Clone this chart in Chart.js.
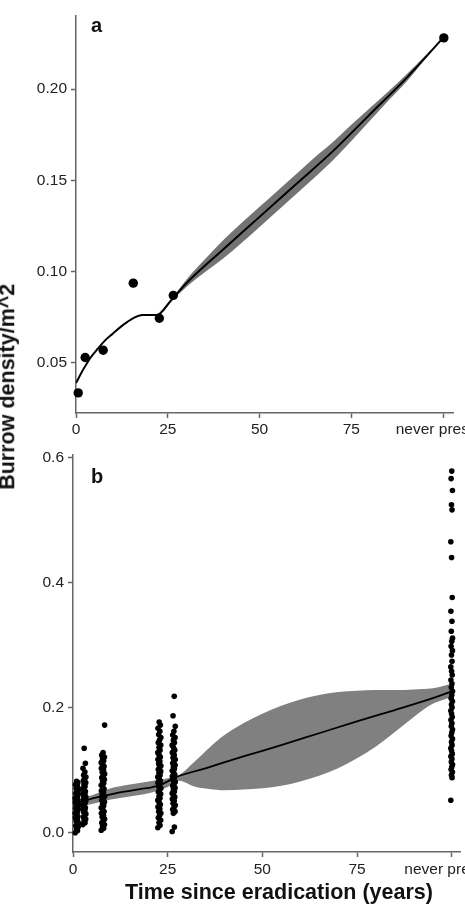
<!DOCTYPE html>
<html>
<head>
<meta charset="utf-8">
<script src="https://cdn.jsdelivr.net/npm/chart.js@4.4.1/dist/chart.umd.min.js"></script>
<style>
  html, body { margin: 0; padding: 0; background: #fff; width: 465px; height: 915px; overflow: hidden; }
  #wrap { position: relative; width: 465px; height: 915px; overflow: hidden; font-family: "Liberation Sans", Arial, sans-serif; }
  canvas { position: absolute; left: 0; }
  #chartA { top: 0; }
  #chartB { top: 440px; }
  .lbl { position: absolute; font-weight: bold; color: #111; white-space: nowrap; font-size: 20px; line-height: 20px; }
  .title { font-size: 21.5px; line-height: 21.5px; }
  #ytitle { width: 260px; left: -122.5px; top: 376px; text-align: center; transform: rotate(-90deg); }
  #xtitle { width: 400px; left: 79px; top: 882px; text-align: center; }
</style>
</head>
<body>
<div id="wrap">
  <canvas id="chartA" width="520" height="440" style="width:520px;height:440px"></canvas>
  <canvas id="chartB" width="520" height="475" style="width:520px;height:475px"></canvas>
  <div class="lbl" style="left:91px; top:15px;">a</div>
  <div class="lbl" style="left:91px; top:466px;">b</div>
  <div class="lbl title" id="ytitle">Burrow density/m^2</div>
  <div class="lbl title" id="xtitle">Time since eradication (years)</div>
</div>
<script>
// x ticks shared by both panels (100 = never present)
const xTicks = [0, 25, 50, 75, 100];
const neverLabel = 'never present';

// ---- panel a: site means + fitted curve ----
const yTicksA = [0.05, 0.10, 0.15, 0.20];
const meanX = [0.6, 2.5, 7.4, 15.6, 22.7, 26.5, 100.2];
const meanY = [0.0336, 0.053, 0.057, 0.0937, 0.0745, 0.087, 0.228];

const fitAX = [0, 2, 4, 6, 8, 10, 12, 14, 16, 18, 20, 22, 26, 30, 40, 50, 60, 70, 80, 90, 100];
const fitAY = [0.039, 0.0465, 0.053, 0.058, 0.0625, 0.066, 0.0695, 0.0725, 0.075, 0.0762, 0.0763, 0.0763,
               0.0845, 0.0935, 0.112, 0.130, 0.148, 0.166, 0.186, 0.206, 0.228];

const bandAX = [22, 26, 30, 35, 40, 45, 50, 55, 60, 65, 70, 75, 80, 85, 90, 95, 100];
const bandAHi = [0.0763, 0.085, 0.0955, 0.1065, 0.117, 0.1265, 0.1355, 0.1445, 0.1535, 0.1625, 0.171, 0.1805, 0.1895, 0.1985, 0.208, 0.218, 0.228];
const bandALo = [0.0763, 0.084, 0.0915, 0.0995, 0.107, 0.1155, 0.1245, 0.1335, 0.1425, 0.1515, 0.161, 0.1715, 0.1825, 0.1935, 0.204, 0.216, 0.228];

// ---- panel b: individual plots + fitted curve ----
const yTicksB = [0.0, 0.2, 0.4, 0.6];
const siteCenters = [1.0, 3.0, 7.9, 22.8, 26.6, 100.0];
const siteSpread = [0.45, 0.45, 0.5, 0.45, 0.45, 0.25];
const jitter = [-0.9, 0.4, -0.2, 0.8, -0.6, 0.1, 0.9, -0.4, 0.3, -0.8, 0.6, -0.1];

const site1Y = [0.000, 0.003, 0.006, 0.009, 0.011, 0.014, 0.016, 0.019, 0.021, 0.024, 0.026, 0.028, 0.031, 0.033,
                0.035, 0.037, 0.039, 0.041, 0.043, 0.045, 0.047, 0.049, 0.051, 0.053, 0.055, 0.057, 0.059, 0.061,
                0.063, 0.066, 0.068, 0.071, 0.074, 0.077, 0.080, 0.082];
const site2Y = [0.013, 0.016, 0.019, 0.022, 0.025, 0.028, 0.030, 0.033, 0.035, 0.038, 0.040, 0.042, 0.045, 0.047,
                0.049, 0.051, 0.053, 0.055, 0.057, 0.059, 0.061, 0.063, 0.066, 0.068, 0.071, 0.074, 0.077, 0.080,
                0.083, 0.086, 0.089, 0.092, 0.097, 0.103, 0.111, 0.135];
const site3Y = [0.004, 0.007, 0.010, 0.013, 0.016, 0.019, 0.022, 0.025, 0.028, 0.031, 0.034, 0.037, 0.040, 0.043,
                0.046, 0.049, 0.052, 0.055, 0.058, 0.061, 0.064, 0.067, 0.070, 0.073, 0.076, 0.079, 0.082, 0.085,
                0.088, 0.091, 0.094, 0.097, 0.100, 0.103, 0.106, 0.109, 0.112, 0.115, 0.118, 0.121, 0.124, 0.128, 0.172];
const site4Y = [0.008, 0.012, 0.016, 0.020, 0.024, 0.027, 0.031, 0.034, 0.038, 0.041, 0.045, 0.048, 0.052, 0.055,
                0.058, 0.062, 0.065, 0.068, 0.071, 0.074, 0.077, 0.080, 0.083, 0.086, 0.089, 0.092, 0.095, 0.098,
                0.101, 0.104, 0.107, 0.110, 0.114, 0.117, 0.121, 0.124, 0.128, 0.132, 0.136, 0.140, 0.144, 0.148,
                0.152, 0.157, 0.162, 0.167, 0.172, 0.177];
const site5Y = [0.002, 0.009, 0.031, 0.034, 0.037, 0.040, 0.044, 0.047, 0.051, 0.054, 0.057, 0.060, 0.063, 0.066,
                0.069, 0.072, 0.075, 0.078, 0.081, 0.084, 0.087, 0.090, 0.093, 0.096, 0.099, 0.102, 0.105, 0.108,
                0.111, 0.114, 0.117, 0.120, 0.124, 0.128, 0.132, 0.136, 0.140, 0.144, 0.148, 0.152, 0.156, 0.162,
                0.170, 0.187, 0.218];
const site6Y = [0.052, 0.088, 0.092, 0.097, 0.101, 0.105, 0.109, 0.113, 0.118, 0.122, 0.126, 0.131, 0.135, 0.140,
                0.145, 0.150, 0.155, 0.160, 0.165, 0.170, 0.175, 0.180, 0.185, 0.190, 0.195, 0.200, 0.205, 0.210,
                0.215, 0.220, 0.226, 0.232, 0.238, 0.244, 0.252, 0.258, 0.265, 0.274, 0.284, 0.291, 0.298, 0.306,
                0.311, 0.322, 0.338, 0.354, 0.376, 0.440, 0.465, 0.516, 0.524, 0.547, 0.566, 0.578];
const siteY = [site1Y, site2Y, site3Y, site4Y, site5Y, site6Y];

const fitBX = [0, 3, 6, 9, 12, 15, 18, 21, 24, 27, 35, 45, 55, 65, 75, 85, 95, 100];
const fitBY = [0.046, 0.051, 0.056, 0.060, 0.064, 0.067, 0.070, 0.073, 0.079, 0.0885, 0.103, 0.122, 0.140, 0.159, 0.178, 0.196, 0.215, 0.226];

const bandBX = [0, 5, 10, 15, 20, 25, 28, 32, 36, 40, 45, 50, 55, 60, 65, 70, 75, 80, 85, 90, 95, 98, 100];
const bandBHi = [0.051, 0.060, 0.071, 0.077, 0.082, 0.087, 0.092, 0.113, 0.136, 0.156, 0.175, 0.190, 0.203, 0.213,
                 0.220, 0.225, 0.227, 0.228, 0.228, 0.229, 0.231, 0.235, 0.238];
const bandBLo = [0.041, 0.046, 0.053, 0.058, 0.063, 0.073, 0.083, 0.074, 0.070, 0.068, 0.069, 0.071, 0.075, 0.082,
                 0.091, 0.103, 0.119, 0.138, 0.161, 0.185, 0.206, 0.213, 0.217];

Chart.defaults.font.family = '"Liberation Sans", Arial, sans-serif';
Chart.defaults.color = '#222';

const pts = (xs, ys) => xs.map((x, i) => ({ x: x, y: ys[i] }));

function sitePoints() {
  const out = [];
  siteY.forEach((ys, s) => {
    ys.forEach((y, i) => {
      out.push({ x: siteCenters[s] + jitter[i % jitter.length] * siteSpread[s], y: y });
    });
  });
  return out;
}

function axisStyle() {
  return {
    border: { display: true, color: '#666', width: 1.5 },
    grid: { drawOnChartArea: false, drawTicks: true, tickLength: 5, color: '#666', tickWidth: 1.5 }
  };
}

function buildChart(id, cfg) {
  const ctx = document.getElementById(id);
  return new Chart(ctx, {
    type: 'scatter',
    data: { datasets: cfg.datasets },
    options: {
      responsive: false,
      animation: false,
      devicePixelRatio: 1,
      layout: { padding: cfg.padding },
      plugins: { legend: { display: false }, tooltip: { enabled: false } },
      scales: {
        x: {
          type: 'linear',
          min: 0,
          max: cfg.xMax,
          ...axisStyle(),
          afterBuildTicks: (scale) => { scale.ticks = xTicks.map(v => ({ value: v })); },
          afterFit: (scale) => {
            scale.height = cfg.xHeight;
            scale.paddingLeft = 0;
            scale.paddingRight = 0;
          },
          ticks: {
            autoSkip: false,
            maxRotation: 0,
            minRotation: 0,
            padding: cfg.xPad,
            font: { size: 15.5 },
            callback: (v) => v === 100 ? neverLabel : String(v)
          }
        },
        y: {
          type: 'linear',
          min: cfg.yMin,
          max: cfg.yMax,
          ...axisStyle(),
          afterBuildTicks: (scale) => { scale.ticks = cfg.yTicks.map(v => ({ value: v })); },
          afterFit: (scale) => {
            scale.width = cfg.yWidth;
            scale.paddingTop = 0;
            scale.paddingBottom = 0;
          },
          ticks: {
            padding: 4,
            font: { size: 15.5 },
            callback: (v) => Number(v).toFixed(cfg.decimals)
          }
        }
      }
    }
  });
}

// panel a
buildChart('chartA', {
  padding: { top: 16, right: 67, left: 0, bottom: 0 },
  xMax: 102.7, xHeight: 27, xPad: 2,
  yMin: 0.0226, yMax: 0.24, yWidth: 76, yTicks: yTicksA, decimals: 2,
  datasets: [
    { data: pts(meanX, meanY), pointRadius: 4.7, pointBackgroundColor: '#000', pointBorderWidth: 0, order: 0, clip: false },
    { type: 'line', data: pts(fitAX, fitAY), borderColor: '#000', borderWidth: 2, pointRadius: 0,
      cubicInterpolationMode: 'monotone', fill: false, order: 1 },
    { type: 'line', data: pts(bandAX, bandAHi), borderWidth: 0, pointRadius: 0, cubicInterpolationMode: 'monotone',
      backgroundColor: '#737373', fill: 3, order: 2 },
    { type: 'line', data: pts(bandAX, bandALo), borderWidth: 0, pointRadius: 0, cubicInterpolationMode: 'monotone',
      fill: false, order: 3 }
  ]
});

// panel b
buildChart('chartB', {
  padding: { top: 15, right: 60, left: 0, bottom: 0 },
  xMax: 102.2, xHeight: 63, xPad: 3,
  yMin: -0.0308, yMax: 0.6037, yWidth: 73, yTicks: yTicksB, decimals: 1,
  datasets: [
    { data: sitePoints(), pointRadius: 2.8, pointBackgroundColor: '#000', pointBorderWidth: 0, order: 0, clip: false },
    { type: 'line', data: pts(fitBX, fitBY), borderColor: '#000', borderWidth: 1.8, pointRadius: 0,
      cubicInterpolationMode: 'monotone', fill: false, order: 1 },
    { type: 'line', data: pts(bandBX, bandBHi), borderWidth: 0, pointRadius: 0, cubicInterpolationMode: 'monotone',
      backgroundColor: '#808080', fill: 3, order: 2 },
    { type: 'line', data: pts(bandBX, bandBLo), borderWidth: 0, pointRadius: 0, cubicInterpolationMode: 'monotone',
      fill: false, order: 3 }
  ]
});
</script>
</body>
</html>
